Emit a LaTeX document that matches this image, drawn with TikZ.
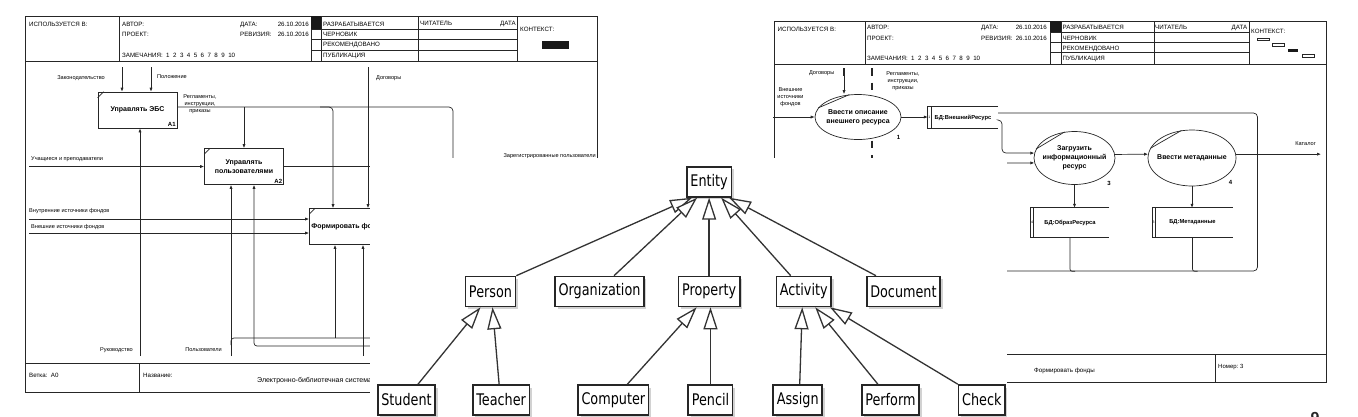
\documentclass[tikz,border=0pt]{standalone}
\usepackage{fontspec}
\setmainfont{Liberation Sans}
\newfontfamily\umlfont[FakeStretch=0.8]{DejaVu Sans}
\usepackage{tikz}
\usetikzlibrary{arrows.meta,positioning,shapes,shadows}
\tikzstyle{frm}=[draw=black!85,line width=0.7pt]
\tikzstyle{flow}=[draw=black!85,line width=0.7pt,-{Latex[length=4pt,width=3.2pt]}]
\tikzstyle{func}=[rectangle,draw=black!85,line width=0.7pt,fill=white,minimum width=79pt,
minimum height=36pt,inner sep=0pt,align=center,font=\fontsize{7}{9}\selectfont\bfseries]
\tikzstyle{proc}=[ellipse,draw=black!85,line width=0.7pt,fill=white,inner xsep=-5pt,
inner ysep=0pt,align=center,font=\fontsize{7}{9}\selectfont\bfseries]
\tikzstyle{store}=[rectangle,inner sep=0pt,minimum height=29pt,font=\fontsize{5.8}{7}\selectfont\bfseries]
\tikzstyle{hdr}=[anchor=base west,inner sep=0pt,font=\fontsize{6.2}{7}\selectfont]
\tikzstyle{lbl}=[inner sep=0pt,align=center,font=\fontsize{5.6}{7}\selectfont]
\tikzstyle{numlbl}=[inner sep=0pt,font=\fontsize{6}{7}\selectfont\bfseries]
\tikzstyle{cls}=[rectangle,draw=black!85,line width=1.6pt,fill=white,minimum height=30pt,
inner xsep=3.5pt,inner ysep=0pt,font=\umlfont\fontsize{16}{18}\selectfont,
drop shadow={shadow xshift=2.5pt,shadow yshift=-2.5pt,opacity=0.35}]
\tikzstyle{inherit}=[draw=black!80,line width=1.3pt,-{Triangle[length=22pt,width=14pt,fill=white]}]
\newcommand{\remarks}{ЗАМЕЧАНИЯ:\ \ 1\ \ 2\ \ 3\ \ 4\ \ 5\ \ 6\ \ 7\ \ 8\ \ 9\ \ 10}

\begin{document}
\begin{tikzpicture}[x=1pt,y=-1pt]
            \useasboundingbox (0,0) rectangle (1358,416);

            % IDEF0 PART (left)

            \draw[frm] (25,16) rectangle (597,392);
            \draw[frm] (25,61) -- (597,61);
            \foreach \x in {119,311,321,418,517} \draw[frm] (\x,16) -- (\x,61);
            \foreach \y in {29,39,50} \draw[frm] (311,\y) -- (517,\y);
            \fill[black!90] (311,16) rectangle (321,29);
            \fill[black!90] (542,41) rectangle (569,49);
            \draw[frm] (25,363) -- (597,363);
            \draw[frm] (139,363) -- (139,392);

            \node[hdr] (lUsed) at (29,26.5) {ИСПОЛЬЗУЕТСЯ В:};
            \node[hdr] (lAuthor) at (122,26.5) {АВТОР:};
            \node[hdr] (lProject) at (122,36.5) {ПРОЕКТ:};
            \node[hdr] (lNotes) at (122,57.5) {\remarks};
            \node[hdr] (lDate) at (240,26.5) {ДАТА:};
            \node[hdr,anchor=base east] (lDateV) at (309,26.5) {26.10.2016};
            \node[hdr] (lRev) at (240,36.5) {РЕВИЗИЯ:};
            \node[hdr,anchor=base east] (lRevV) at (309,36.5) {26.10.2016};
            \node[hdr] (lWork) at (323,26.5) {РАЗРАБАТЫВАЕТСЯ};
            \node[hdr] (lDraft) at (323,36.5) {ЧЕРНОВИК};
            \node[hdr] (lRec) at (323,46.5) {РЕКОМЕНДОВАНО};
            \node[hdr] (lPub) at (323,57.5) {ПУБЛИКАЦИЯ};
            \node[hdr] (lReader) at (420,25.5) {ЧИТАТЕЛЬ};
            \node[hdr,anchor=base east] (lRDate) at (516,25.5) {ДАТА};
            \node[hdr] (lCtx) at (520,31.5) {КОНТЕКСТ:};

            \node[func] (a1) at (137.5,110) {Управлять ЭБС};
            \node[func] (a2) at (244,166.5) {Управлять\\пользователями};
            \node[func] (a3) at (349,226.5) {Формировать фонды};
            \node[numlbl,anchor=south east,inner sep=1.5pt] (a1num) at (a1.south east) {A1};
            \node[numlbl,anchor=south east,inner sep=1.5pt] (a2num) at (a2.south east) {A2};
            \foreach \b in {a1,a2,a3}
                \draw[frm] ([yshift=-6pt]\b.north west) -- ([xshift=6pt]\b.north west);

            \coordinate (lawIn) at (122,67);
            \coordinate (ruleIn) at (151,67);
            \coordinate (dogIn) at (368,67);
            \coordinate (a1out) at (177,107);
            \coordinate (regB) at (320,107);
            \coordinate (regC) at (333,107);
            \coordinate (regD) at (453,107);
            \coordinate (stuIn) at (29,166.5);
            \coordinate (lFrameR) at (597,0);
            \coordinate (intIn) at (29,219);
            \coordinate (extIn) at (29,233);
            \coordinate (mgmtIn) at (140,356);
            \coordinate (usrIn) at (231,356);
            \coordinate (usrAa) at (231,345);
            \coordinate (usrA) at (335,338);
            \coordinate (usrAb) at (420,338);
            \coordinate (usrB) at (420,346);
            \coordinate (usrBx) at (254,346);
            \coordinate (usrC) at (363,356);

            \path (lawIn) edge[flow] (lawIn |- a1.north);
            \path (ruleIn) edge[flow] (ruleIn |- a1.north);
            \draw[frm,rounded corners=4pt] (a1out) -- (regD) -- (453,250);
            \path (a2.north |- a1out) edge[flow] (a2.north);
            \draw[flow,rounded corners=4pt] (regB) -- (regC) -- (regC |- a3.north);
            \path (dogIn) edge[flow] (dogIn |- a3.north);
            \path (stuIn) edge[flow] (a2.west);
            \draw[frm] (a2.east) -- (a2.east -| lFrameR);
            \path (intIn) edge[flow] (intIn -| a3.west);
            \path (extIn) edge[flow] (extIn -| a3.west);
            \path (mgmtIn) edge[flow] (mgmtIn |- a1.south);
            \path (usrIn) edge[flow] (usrIn |- a2.south);
            \draw[frm,rounded corners=3pt] (usrAa) |- (usrAb);
            \path (usrA) edge[flow] (usrA |- a3.south);
            \draw[flow,rounded corners=3pt] (usrB) -- (usrBx) -- (usrBx |- a2.south);
            \path (usrC) edge[flow] (usrC |- a3.south);

            \node[lbl,anchor=east] (lawLbl) at (105,78) {Законодательство};
            \node[lbl,anchor=west] (ruleLbl) at (157,77) {Положение};
            \node[lbl] (regLbl) at (200,104) {Регламенты,\\инструкции,\\приказы};
            \node[lbl,anchor=west] (dogLbl) at (376,78) {Договоры};
            \node[lbl,anchor=west] (stuLbl) at (31,159) {Учащиеся и преподаватели};
            \node[lbl,anchor=east] (regUsrLbl) at (596,156) {Зарегистрированные пользователи};
            \node[lbl,anchor=west] (intLbl) at (29,211) {Внутренние источники фондов};
            \node[lbl,anchor=west] (extLbl) at (31,227) {Внешние источники фондов};
            \node[lbl,anchor=east] (mgmtLbl) at (133,350) {Руководство};
            \node[lbl,anchor=east] (usrLbl) at (222,350) {Пользователи};

            \node[hdr] (lNode) at (29,377) {Ветка:\ \ A0};
            \node[hdr] (lTitle) at (143,377) {Название:};
            \node[hdr,font=\fontsize{7}{8}\selectfont] (lTitleV) at (257,382.5) {Электронно-библиотечная система};

            % DFD PART (right)

            \draw[frm] (774,21) rectangle (1326,382);
            \draw[frm] (774,64) -- (1326,64);
            \foreach \x in {865,1050,1061,1154,1249} \draw[frm] (\x,21) -- (\x,64);
            \foreach \y in {32,42,52} \draw[frm] (1050,\y) -- (1249,\y);
            \fill[black!90] (1050,21) rectangle (1061,32);
            \draw[frm,line width=0.5pt] (1257.5,38) rectangle (1269.5,40.5);
            \draw[frm,line width=0.5pt] (1272.5,43.5) rectangle (1284.5,46);
            \fill[black!90] (1287.5,49) rectangle (1298,51.5);
            \draw[frm,line width=0.5pt] (1302.5,54.5) rectangle (1314,57);
            \draw[frm] (774,354) -- (1326,354);
            \draw[frm] (1215.5,354) -- (1215.5,382);

            \node[hdr] (rUsed) at (777.5,31.3) {ИСПОЛЬЗУЕТСЯ В:};
            \node[hdr] (rAuthor) at (867,29.5) {АВТОР:};
            \node[hdr] (rProject) at (867,40) {ПРОЕКТ:};
            \node[hdr] (rNotes) at (867,60.6) {\remarks};
            \node[hdr] (rDate) at (981,29.5) {ДАТА:};
            \node[hdr,anchor=base east] (rDateV) at (1047,29.5) {26.10.2016};
            \node[hdr] (rRev) at (981,40) {РЕВИЗИЯ:};
            \node[hdr,anchor=base east] (rRevV) at (1047,40) {26.10.2016};
            \node[hdr] (rWork) at (1062.5,29.6) {РАЗРАБАТЫВАЕТСЯ};
            \node[hdr] (rDraft) at (1062.5,40) {ЧЕРНОВИК};
            \node[hdr] (rRec) at (1062.5,50) {РЕКОМЕНДОВАНО};
            \node[hdr] (rPub) at (1062.5,60.6) {ПУБЛИКАЦИЯ};
            \node[hdr] (rReader) at (1155,29) {ЧИТАТЕЛЬ};
            \node[hdr,anchor=base east] (rRDate) at (1247.5,29) {ДАТА};
            \node[hdr] (rCtx) at (1251,33) {КОНТЕКСТ:};

            \coordinate (rDogIn) at (844,68);
            \coordinate (rTunA) at (872,68);
            \coordinate (rTunB) at (872,162);
            \draw[line width=1.4pt,draw=black!85] (rDogIn) -- ++(0,8);
            \draw[line width=1.4pt,draw=black!85,dash pattern=on 7.5pt off 7pt] (rTunA) -- (rTunB);

            \node[proc,minimum width=86pt,minimum height=45pt] (p1) at (858,117) {Ввести описание\\внешнего ресурса};
            \node[proc,minimum width=81pt,minimum height=53pt] (p3) at (1074.5,158) {Загрузить\\информационный\\ресурс};
            \node[proc,minimum width=88pt,minimum height=56pt] (p4) at (1192,158) {Ввести метаданные};
            \foreach \p in {p1,p3,p4} \draw[frm] (\p.167) -- (\p.111);
            \node[numlbl] (p1num) at (898.5,137.5) {1};
            \node[numlbl] (p3num) at (1109,183) {3};
            \node[numlbl] (p4num) at (1230.5,182) {4};

            \node[store,minimum width=70pt,minimum height=22pt] (s1) at (963,117.5) {БД:ВнешнийРесурс};
            \node[store,minimum width=78.5pt] (s3) at (1070,222.5) {БД:ОбразРесурса};
            \node[store,minimum width=80.5pt] (s4) at (1192.5,222.5) {БД:Метаданные};
            \foreach \s/\d in {s1/1,s3/4,s4/3} {
                \draw[frm] (\s.north east) -- (\s.north west) -- (\s.south west) -- (\s.south east);
                \draw[frm,line width=0.5pt] ([xshift=3pt]\s.north west) -- ([xshift=3pt]\s.south west);
                \node[inner sep=0pt,font=\fontsize{3.5}{4}\selectfont] (\s id) at ([xshift=1.6pt]\s.west) {\d};
            }

            \coordinate (rExtIn) at (773,117);
            \coordinate (rLoop) at (1257.5,113);
            \coordinate (rLoopB) at (1257.5,271);
            \coordinate (rLoopC) at (990,271);
            \coordinate (rBend) at (1002,120);
            \coordinate (rIn3) at (1007,163);
            \coordinate (rCat) at (1321,155);

            \path (rExtIn) edge[flow] (p1.west);
            \path (rDogIn) edge[flow] (rDogIn |- p1.north);
            \path (p1.east) edge[flow] (p1.east -| s1.west);
            \draw[frm,rounded corners=4pt] ([yshift=4.5pt]s1.east) -- (rLoop) -- (rLoopB) -- (rLoopC);
            \draw[flow,rounded corners=4pt] ([yshift=-2.5pt]s1.east) -- (rBend) |- (p3.173);
            \path (rIn3) edge[flow] (p3.187);
            \path (p3.5) edge[flow] (p4.175);
            \path (p4.5) edge[flow] (p4.5 -| rCat);
            \path (p3.south) edge[flow] (p3.south |- s3.north);
            \path (p4.south) edge[flow] (p4.south |- s4.north);
            \draw[frm,rounded corners=2pt] (s3.south) -- ++(0,34) -- ++(5,0);
            \draw[frm,rounded corners=2pt] (s4.south) -- ++(0,34) -- ++(5,0);

            \node[lbl] (rExtLbl) at (790.5,97) {Внешние\\источники\\фондов};
            \node[lbl,anchor=east] (rDogLbl) at (834.5,73) {Договоры};
            \node[lbl] (rRegLbl) at (903,81) {Регламенты,\\инструкции,\\приказы};
            \node[lbl,anchor=east] (rCatLbl) at (1316,144) {Каталог};

            \node[hdr] (rTitleV) at (1034,372.5) {Формировать фонды};
            \node[hdr,font=\fontsize{6}{7}\selectfont] (rNumber) at (1218,368) {Номер:\ 3};

            % class hierarchy PART

            \fill[white] (370,158) rectangle (1007,416);

            \node[cls] (person) at (490.5,291.5) {Person};
            \node[cls,right=38pt of person] (organization) {Organization};
            \node[cls,right=33pt of organization] (property) {Property};
            \node[cls,right=35pt of property] (activity) {Activity};
            \node[cls,right=34pt of activity] (document) {Document};
            \node[cls,above=78pt of property] (entity) {Entity};

            \node[cls] (student) at (406.5,400) {Student};
            \node[cls,right=36pt of student] (teacher) {Teacher};
            \node[cls,right=47pt of teacher] (computer) {Computer};
            \node[cls,right=38pt of computer] (pencil) {Pencil};
            \node[cls,right=39pt of pencil] (assign) {Assign};
            \node[cls,right=38pt of assign] (perform) {Perform};
            \node[cls,right=38pt of perform] (check) {Check};

            \path (person.north east) edge[inherit] ([xshift=-17pt]entity.south);
            \path ([xshift=14.5pt]organization.north) edge[inherit] ([xshift=-12pt]entity.south);
            \path (property.north) edge[inherit] (entity.south);
            \path ([xshift=-13pt]activity.north) edge[inherit] ([xshift=12pt]entity.south);
            \path ([xshift=10pt]document.north west) edge[inherit] ([xshift=20pt]entity.south);

            \path ([xshift=11.5pt]student.north) edge[inherit] ([xshift=-10pt]person.south);
            \path ([xshift=-2pt]teacher.north) edge[inherit] ([xshift=2pt]person.south);
            \path ([xshift=14pt]computer.north) edge[inherit] ([xshift=-12.5pt]property.south);
            \path (pencil.north) edge[inherit] (pencil.north |- property.south);
            \path ([xshift=2pt]assign.north) edge[inherit] ([xshift=-1.5pt]activity.south);
            \path ([xshift=-12.5pt]perform.north) edge[inherit] ([xshift=11.5pt]activity.south);
            \path (check.north west) edge[inherit] ([xshift=-2pt]activity.south east);

            \node[anchor=north,inner sep=0pt,font=\fontsize{16}{16}\selectfont\bfseries,text=black!85] (pageNo) at (1315,412.5) {9};

\end{tikzpicture}
\end{document}
